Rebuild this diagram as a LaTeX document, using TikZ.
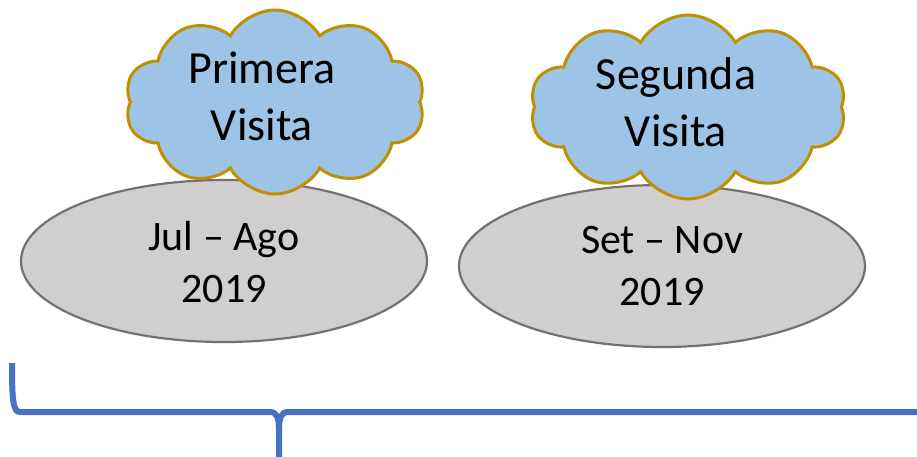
\documentclass[tikz,border=0pt]{standalone}
\usepackage{fontspec}
\setmainfont{Carlito}
\usetikzlibrary{shapes.symbols,shapes.geometric}
\definecolor{cloudfill}{HTML}{9DC3E6}
\definecolor{clouddraw}{HTML}{BF9000}
\definecolor{ellfill}{HTML}{D0CECE}
\definecolor{elldraw}{HTML}{767171}
\definecolor{bracecol}{HTML}{4472C4}
\tikzset{
  period/.style={ellipse, fill=ellfill, draw=elldraw, line width=2.2pt, inner sep=0pt},
  visit/.style={cloud, cloud puffs=10, cloud puff arc=120, cloud ignores aspect, fill=cloudfill, draw=clouddraw, line width=3pt, inner sep=0pt},
  cloudtext/.style={align=center, inner sep=0pt, font=\fontsize{46}{57}\selectfont},
  elltext/.style={align=center, inner sep=0pt, font=\fontsize{42}{52}\selectfont},
}
\begin{document}
\begin{tikzpicture}[x=1pt,y=-1pt]
\useasboundingbox (0,0) rectangle (917,456);
% ellipses
\node[period, minimum width=406, minimum height=162] (e1) at (224,261) {};
\node[period, minimum width=406, minimum height=162] (e2) at (662,266) {};
% clouds
\node[visit, minimum width=300, minimum height=184] (c1) at (275,102) {};
\node[visit, minimum width=316, minimum height=184] (c2) at (688,107) {};
% texts
\node[cloudtext] (t1) at (262,96) {Primera\\Visita};
\node[cloudtext] (t2) at (676,102) {Segunda\\Visita};
\node[elltext] (d1) at (224,262) {Jul – Ago\\2019};
\node[elltext] (d2) at (662,266) {Set – Nov\\2019};
% brace
\coordinate (bl) at (12,363);
\coordinate (bm) at (279,460);
\coordinate (br) at (930,412);
\draw[bracecol, line width=6pt] (bl) .. controls (12,400) and (13,412) .. (20,412)
  -- (270,412) .. controls (277,412) and (279,418) .. (279,430) -- (bm);
\draw[bracecol, line width=6pt] (279,430) .. controls (279,418) and (281,412) .. (288,412) -- (br);
\end{tikzpicture}
\end{document}
